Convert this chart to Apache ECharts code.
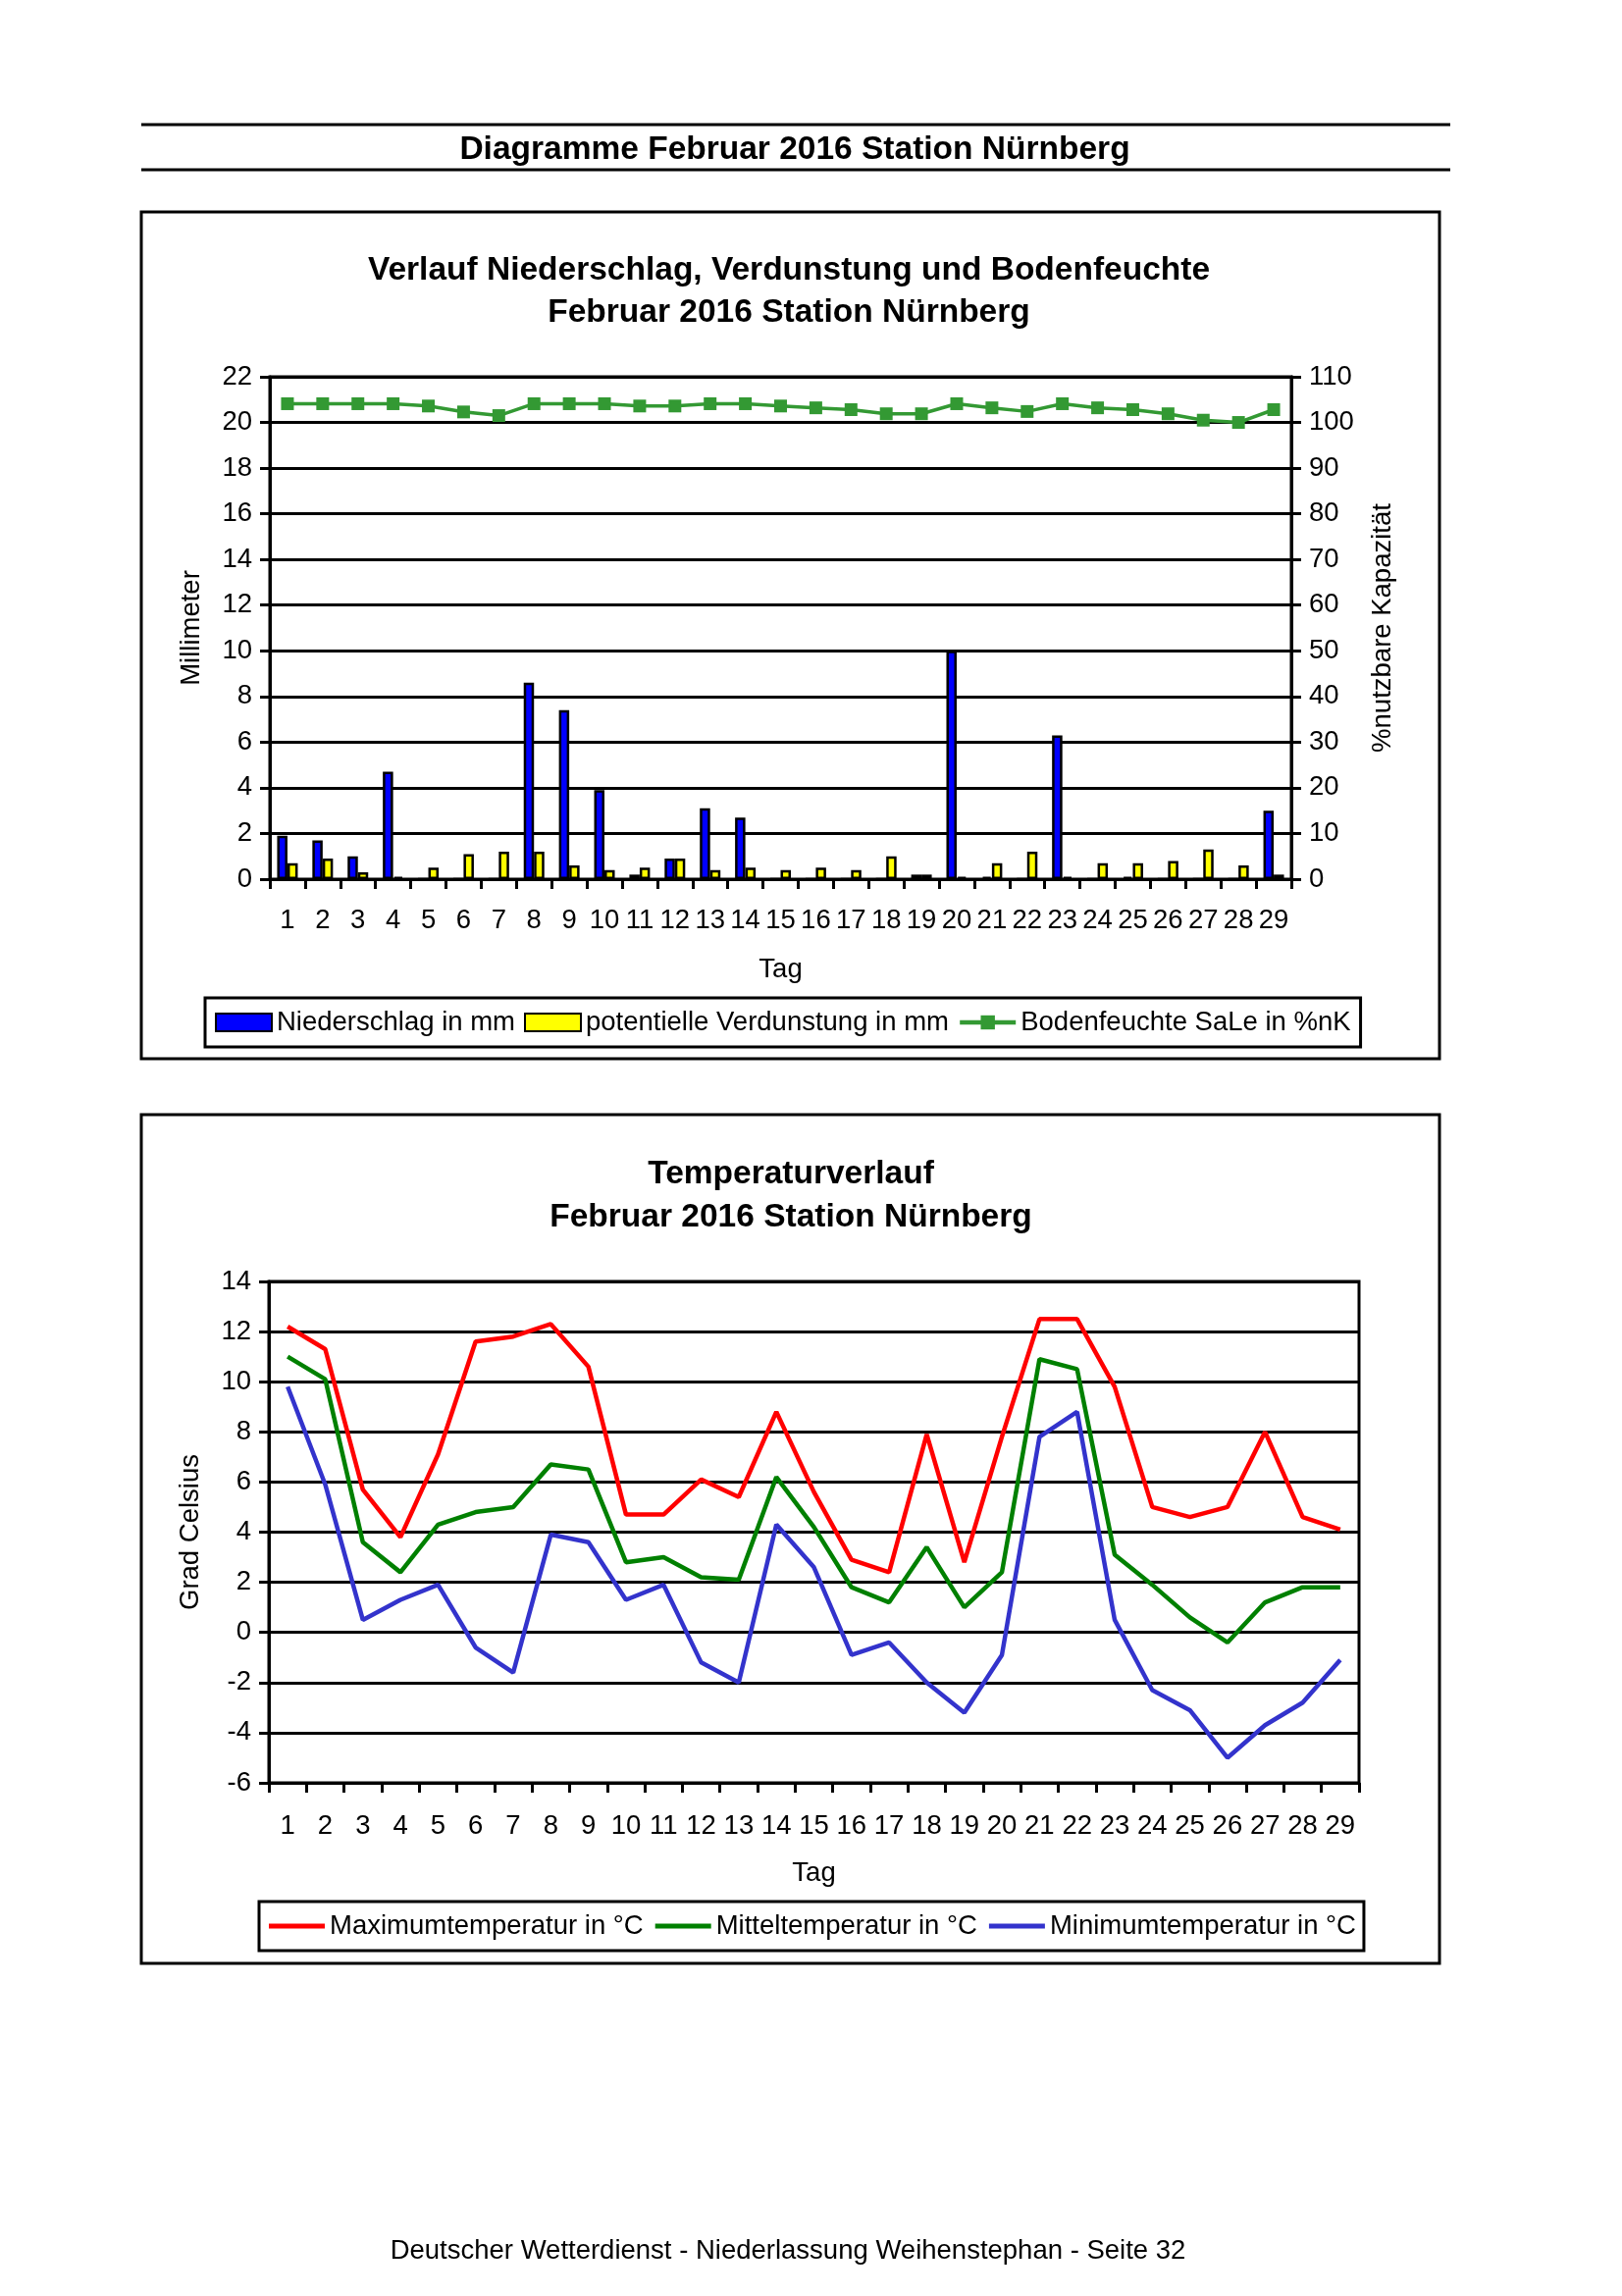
<!DOCTYPE html>
<html><head><meta charset="utf-8">
<script src="https://cdn.jsdelivr.net/npm/echarts@6/dist/echarts.min.js"></script>
<style>html,body{margin:0;padding:0;background:#fff}#c{width:1653px;height:2340px}</style>
</head><body><div id="c"></div>
<script>
const days = ['1','2','3','4','5','6','7','8','9','10','11','12','13','14','15','16','17','18','19','20','21','22','23','24','25','26','27','28','29'];
const niederschlag = [1.9,1.7,1.0,4.7,0,0,0,8.6,7.4,3.9,0.2,0.9,3.1,2.7,0,0,0,0,0.2,10.0,0.1,0,6.3,0,0.1,0,0,0,3.0];
const verdunstung = [0.7,0.9,0.3,0.1,0.5,1.1,1.2,1.2,0.6,0.4,0.5,0.9,0.4,0.5,0.4,0.5,0.4,1.0,0.2,0.1,0.7,1.2,0.1,0.7,0.7,0.8,1.3,0.6,0.2];
const bodenfeuchte = [104.1,104.1,104.1,104.1,103.6,102.3,101.5,104.1,104.1,104.1,103.6,103.6,104.1,104.1,103.6,103.2,102.8,101.9,101.9,104.1,103.2,102.4,104.1,103.2,102.8,101.9,100.5,100.0,102.8];
const tMax = [12.2,11.3,5.7,3.8,7.1,11.6,11.8,12.3,10.6,4.7,4.7,6.1,5.4,8.8,5.6,2.9,2.4,7.9,2.8,7.8,12.5,12.5,9.8,5.0,4.6,5.0,8.0,4.6,4.1];
const tMittel = [11.0,10.1,3.6,2.4,4.3,4.8,5.0,6.7,6.5,2.8,3.0,2.2,2.1,6.2,4.2,1.8,1.2,3.4,1.0,2.4,10.9,10.5,3.1,1.9,0.6,-0.4,1.2,1.8,1.8];
const tMin = [9.8,5.9,0.5,1.3,1.9,-0.6,-1.6,3.9,3.6,1.3,1.9,-1.2,-2.0,4.3,2.6,-0.9,-0.4,-2.0,-3.2,-0.9,7.8,8.8,0.5,-2.3,-3.1,-5.0,-3.7,-2.8,-1.1];

const FONT = '"Liberation Sans", Arial, sans-serif';
const FS = 27.5;
const TFS = 33.5;
const black = '#000000';

function catAxis(gi, margin) {
  return {
    type: 'category', gridIndex: gi, data: days, boundaryGap: true,
    axisLine: {show: true, onZero: false, lineStyle: {color: black, width: 3}},
    axisTick: {show: true, length: 10, inside: false, alignWithLabel: false, interval: 0, lineStyle: {color: black, width: 3}},
    axisLabel: {interval: 0, fontSize: FS, fontFamily: FONT, color: black, margin: margin},
    name: 'Tag', nameLocation: 'middle', nameGap: 78,
    nameTextStyle: {fontSize: FS, fontFamily: FONT, color: black}
  };
}
function valAxis(gi, min, max, interval, pos, name, gap, split) {
  return {
    type: 'value', gridIndex: gi, min: min, max: max, interval: interval, position: pos,
    axisLine: {show: true, onZero: false, lineStyle: {color: black, width: 3}},
    axisTick: {show: true, length: 10, lineStyle: {color: black, width: 3}},
    axisLabel: {fontSize: FS, fontFamily: FONT, color: black, margin: 18},
    splitLine: {show: split, lineStyle: {color: black, width: 3}},
    name: name, nameLocation: 'middle', nameRotate: 90, nameGap: gap,
    nameTextStyle: {fontSize: FS, fontFamily: FONT, color: black}
  };
}

const chart = echarts.init(document.getElementById('c'), null, {renderer: 'canvas'});
const txt = (x, y, t, bold, size) => ({
  type: 'text', x: x, y: y, z: 10,
  style: {text: t, fill: black, textAlign: 'center', textVerticalAlign: 'middle',
    font: (bold ? 'bold ' : '') + size + 'px ' + FONT}
});

chart.setOption({
  animation: false,
  backgroundColor: '#ffffff',
  grid: [
    {left: 275, top: 384, width: 1041, height: 512, show: true, borderColor: black, borderWidth: 3, backgroundColor: 'transparent'},
    {left: 274, top: 1306, width: 1111, height: 511, show: true, borderColor: black, borderWidth: 3, backgroundColor: 'transparent'}
  ],
  xAxis: [catAxis(0, 28), catAxis(1, 30)],
  yAxis: [
    valAxis(0, 0, 22, 2, 'left', 'Millimeter', 66, true),
    valAxis(0, 0, 110, 10, 'right', '%nutzbare Kapazität', 79, false),
    valAxis(1, -6, 14, 2, 'left', 'Grad Celsius', 66, true)
  ],
  legend: [
    {
      left: 209, top: 1017, orient: 'horizontal',
      data: [{name: 'Niederschlag in mm', icon: 'rect'}, {name: 'potentielle Verdunstung in mm', icon: 'rect'},
        {name: 'Bodenfeuchte SaLe in %nK', lineStyle: {width: 4.5}}],
      borderColor: black, borderWidth: 3, backgroundColor: '#fff',
      padding: [11, 10, 11, 10], itemWidth: 57, itemHeight: 18, itemGap: 9,
      textStyle: {fontSize: FS, fontFamily: FONT, color: black}
    },
    {
      left: 264, top: 1938, orient: 'horizontal',
      data: [{name: 'Maximumtemperatur in °C', icon: 'rect'}, {name: 'Mitteltemperatur in °C', icon: 'rect'}, {name: 'Minimumtemperatur in °C', icon: 'rect'}],
      borderColor: black, borderWidth: 3, backgroundColor: '#fff',
      padding: [11, 8, 11, 10], itemWidth: 57, itemHeight: 5, itemGap: 12,
      textStyle: {fontSize: FS, fontFamily: FONT, color: black}
    }
  ],
  series: [
    {name: 'Niederschlag in mm', type: 'bar', xAxisIndex: 0, yAxisIndex: 0, data: niederschlag,
      barWidth: 10.5, barGap: '0%', itemStyle: {color: '#0000FF', borderColor: black, borderWidth: 2.5}},
    {name: 'potentielle Verdunstung in mm', type: 'bar', xAxisIndex: 0, yAxisIndex: 0, data: verdunstung,
      barWidth: 10.5, barGap: '0%', itemStyle: {color: '#FFFF00', borderColor: black, borderWidth: 2.5}},
    {name: 'Bodenfeuchte SaLe in %nK', type: 'line', xAxisIndex: 0, yAxisIndex: 1, data: bodenfeuchte,
      symbol: 'rect', symbolSize: 13, showAllSymbol: true,
      lineStyle: {color: '#339933', width: 3.5}, itemStyle: {color: '#339933'}},
    {name: 'Maximumtemperatur in °C', type: 'line', xAxisIndex: 1, yAxisIndex: 2, data: tMax,
      symbol: 'none', lineStyle: {color: '#FF0000', width: 4.5}, itemStyle: {color: '#FF0000'}},
    {name: 'Mitteltemperatur in °C', type: 'line', xAxisIndex: 1, yAxisIndex: 2, data: tMittel,
      symbol: 'none', lineStyle: {color: '#008000', width: 4.5}, itemStyle: {color: '#008000'}},
    {name: 'Minimumtemperatur in °C', type: 'line', xAxisIndex: 1, yAxisIndex: 2, data: tMin,
      symbol: 'none', lineStyle: {color: '#3333CC', width: 4.5}, itemStyle: {color: '#3333CC'}}
  ],
  graphic: [
    {type: 'line', shape: {x1: 144, y1: 127, x2: 1478, y2: 127}, style: {stroke: black, lineWidth: 3}},
    {type: 'line', shape: {x1: 144, y1: 173, x2: 1478, y2: 173}, style: {stroke: black, lineWidth: 3}},
    txt(810, 153, 'Diagramme Februar 2016 Station Nürnberg', true, TFS),
    {type: 'rect', shape: {x: 144, y: 216, width: 1323, height: 863}, style: {fill: 'none', stroke: black, lineWidth: 3}, z: -1},
    {type: 'rect', shape: {x: 144, y: 1136, width: 1323, height: 865}, style: {fill: 'none', stroke: black, lineWidth: 3}, z: -1},
    txt(804, 276, 'Verlauf Niederschlag, Verdunstung und Bodenfeuchte', true, TFS),
    txt(804, 319, 'Februar 2016 Station Nürnberg', true, TFS),
    txt(806, 1197, 'Temperaturverlauf', true, TFS),
    txt(806, 1241, 'Februar 2016 Station Nürnberg', true, TFS),
    txt(803, 2294, 'Deutscher Wetterdienst - Niederlassung Weihenstephan - Seite 32', false, 27.5)
  ]
});
</script></body></html>
